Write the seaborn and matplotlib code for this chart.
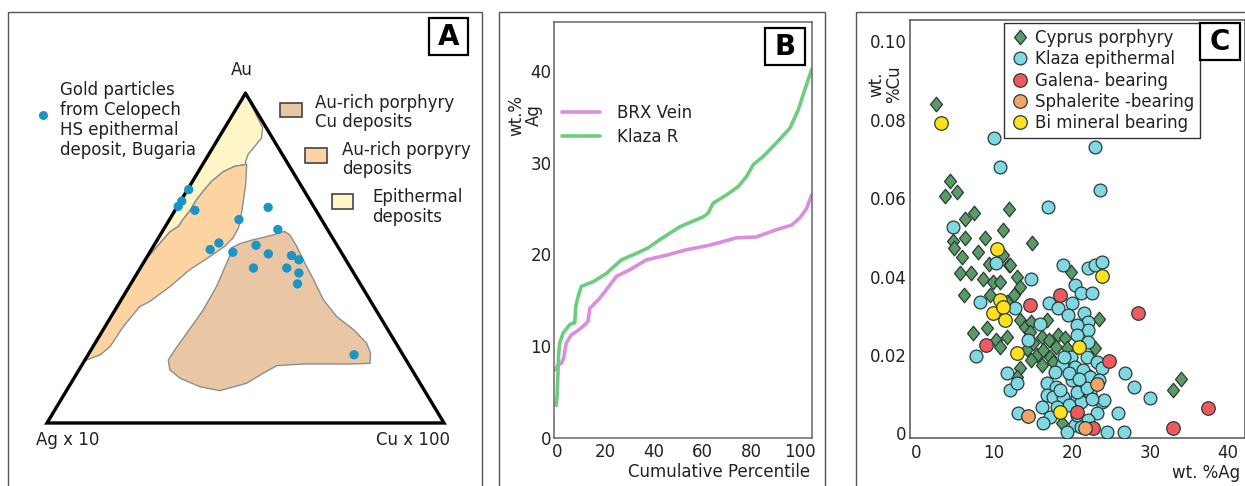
import numpy as np
import pandas as pd
import matplotlib
matplotlib.use("Agg")
import matplotlib.pyplot as plt
import seaborn as sns
from matplotlib.patches import Rectangle, Polygon
from matplotlib.lines import Line2D
from matplotlib.path import Path

# ---------------- DATA ----------------
# Panel A: gold particles (Au %, Cu %) in the Au - Ag*10 - Cu*100 ternary
gold_au = [70.8, 67.3, 65.7, 64.5, 65.4, 61.7, 58.7, 54.6, 52.6, 51.8,
           53.9, 51.3, 50.8, 49.5, 47.0, 47.0, 45.5, 42.2, 20.7]
gold_cu = [0.3, 0.3, 0.2, 5.0, 23.0, 17.5, 28.8, 16.0, 14.8, 20.9,
           25.7, 30.1, 36.2, 38.7, 28.5, 36.9, 40.7, 42.0, 67.0]

# fields: (Au %, Cu %) boundary vertices
epi_au = [100.0, 89.6, 86.5, 84.0, 81.5, 78.9, 78.4, 77.9, 76.2, 73.3, 70.3, 67.5,
          64.4, 61.7, 59.7, 58.0, 55.1, 51.6, 49.8]
epi_cu = [0.0, 9.5, 10.8, 10.4, 9.9, 10.5, 11.1, 8.4, 6.3, 4.8, 4.2, 3.8,
          3.8, 3.4, 3.3, 2.0, 1.3, 0.6, 0.0]

por_au = [78.4, 72.3, 67.3, 62.2, 59.3, 56.2, 53.6, 50.5, 46.5, 41.4, 36.9, 35.3,
          29.3, 23.2, 20.7, 19.1, 18.8, 49.8, 51.6, 55.1, 58.0, 59.7, 61.7, 64.4,
          67.5, 70.3, 73.3, 76.2, 77.9]
por_cu = [11.1, 13.9, 15.8, 17.7, 18.6, 18.8, 18.0, 15.8, 12.7, 10.3, 7.5, 5.7,
          4.6, 4.3, 3.1, 0.4, 0.0, 0.0, 0.6, 1.3, 2.0, 3.3, 3.4, 3.8,
          3.8, 4.2, 4.8, 6.3, 8.4]

cu_au = [53.1, 54.4, 55.6, 56.8, 58.1, 57.1, 53.6, 48.5, 43.5, 37.4, 32.3, 28.3,
         24.2, 21.2, 18.1, 17.9, 17.9, 17.4, 15.1, 12.1, 9.8, 11.0, 13.6, 16.1,
         19.1, 22.2, 27.3, 34.3, 41.4, 48.5, 52.1]
cu_cu = [19.9, 21.4, 24.2, 27.8, 30.8, 32.6, 36.1, 40.7, 45.4, 50.9, 56.8, 63.1,
         68.4, 70.9, 72.3, 67.3, 55.6, 49.2, 46.9, 44.3, 38.7, 33.0, 26.7, 22.9,
         21.0, 21.1, 21.6, 22.2, 22.0, 21.0, 20.5]

# Panel B: cumulative percentile curves of Ag wt.%
klaza_pct = [-0.3, 0.1, 0.7, 1.1, 2.5, 5.2, 6.6, 7.3, 7.7, 8.7, 10.0, 14.8, 20.3,
             26.5, 32.7, 37.5, 42.3, 50.5, 60.2, 62.2, 64.3, 69.8, 74.6, 78.0,
             80.8, 84.9, 90.4, 95.9, 99.3, 102.0, 104.8]
klaza_ag = [3.5, 4.8, 9.2, 10.3, 11.4, 12.3, 12.5, 12.5, 14.3, 15.4, 16.5, 17.0, 17.9,
            19.4, 20.1, 20.7, 21.6, 23.0, 24.1, 24.5, 25.6, 26.5, 27.4, 28.5,
            29.8, 30.7, 32.2, 33.8, 35.8, 38.0, 40.2]
brx_pct = [-0.7, 0.4, 1.8, 2.7, 3.8, 5.9, 8.7, 11.4, 12.8, 13.5, 16.9, 19.6, 24.5,
           29.9, 36.8, 45.0, 53.3, 62.9, 73.9, 82.1, 90.4, 96.6, 100.0, 102.7, 104.8]
brx_ag = [7.4, 7.9, 8.1, 8.6, 10.3, 11.2, 11.7, 12.3, 12.7, 14.1, 15.0, 15.9, 17.6,
          18.3, 19.4, 19.9, 20.5, 21.0, 21.8, 21.9, 22.7, 23.2, 24.0, 25.0, 26.5]

# Panel C: wt.% Ag vs wt.% Cu
cyp_ag = [2.5, 4.3, 3.7, 5.2, 6.3, 7.4, 11.9, 4.7, 4.9, 6.3, 8.9, 11.2, 14.9,
          5.9, 8.0, 9.3, 11.2, 11.9, 5.6, 7.1, 8.6, 9.9, 10.8, 12.1, 12.9, 13.3,
          12.5, 6.1, 9.5, 11.6, 19.8, 7.3, 9.1, 10.3, 11.6, 10.8, 13.3, 14.0, 14.8,
          14.6, 16.8, 16.1, 17.0, 18.2, 19.1, 18.0, 19.3, 15.5, 16.3, 17.2, 14.8,
          16.1, 17.6, 13.3, 12.9, 14.2, 15.0, 23.0, 23.4, 21.2, 18.7, 33.0, 33.9]
cyp_cu = [0.0840, 0.0644, 0.0605, 0.0616, 0.0548, 0.0561, 0.0571, 0.0491, 0.0474,
          0.0499, 0.0499, 0.0518, 0.0486, 0.0450, 0.0463, 0.0433, 0.0454, 0.0429,
          0.0408, 0.0410, 0.0395, 0.0387, 0.0387, 0.0429, 0.0400, 0.0374, 0.0353,
          0.0353, 0.0353, 0.0335, 0.0412, 0.0255, 0.0268, 0.0238, 0.0247, 0.0220,
          0.0289, 0.0272, 0.0285, 0.0259, 0.0289, 0.0247, 0.0238, 0.0251, 0.0243,
          0.0221, 0.0217, 0.0200, 0.0213, 0.0196, 0.0187, 0.0175, 0.0183, 0.0166,
          0.0145, 0.0215, 0.0230, 0.0217, 0.0293, 0.0111, 0.0026, 0.0110, 0.0140]

kla_ag = [10.0, 10.8, 23.0, 23.6, 16.9, 4.7, 10.3, 14.8, 18.9, 22.1, 22.9, 23.8,
          20.4, 21.2, 22.5, 8.2, 12.7, 17.0, 18.2, 20.0, 19.5, 21.5, 22.1, 22.1,
          20.6, 20.6, 22.1, 15.9, 14.4, 7.7, 11.6, 12.1, 12.9, 13.1, 18.7, 19.8,
          21.9, 23.2, 23.8, 20.4, 21.9, 20.0, 22.3, 20.6, 21.2, 23.8, 23.2, 25.9,
          24.5, 26.6, 26.8, 27.9, 30.0, 20.4, 16.8, 18.0, 16.8, 17.6, 18.9, 16.1,
          17.2, 16.3, 19.3, 19.6, 18.5, 21.4, 22.3, 20.6, 21.9, 19.6, 18.1, 20.6,
          22.0, 21.1, 24.1, 23.4, 20.9, 17.8, 22.6, 19.0]
kla_cu = [0.0752, 0.0679, 0.0729, 0.0620, 0.0577, 0.0527, 0.0435, 0.0395, 0.0429,
          0.0421, 0.0429, 0.0438, 0.0378, 0.0357, 0.0357, 0.0334, 0.0319, 0.0332,
          0.0319, 0.0332, 0.0302, 0.0306, 0.0285, 0.0264, 0.0276, 0.0251, 0.0233,
          0.0278, 0.0238, 0.0197, 0.0153, 0.0111, 0.0128, 0.0051, 0.0175, 0.0195,
          0.0196, 0.0183, 0.0166, 0.0170, 0.0149, 0.0136, 0.0102, 0.0094, 0.0081,
          0.0081, 0.0051, 0.0051, 0.0005, 0.0005, 0.0153, 0.0118, 0.0090, 0.0022,
          0.0128, 0.0119, 0.0098, 0.0094, 0.0094, 0.0068, 0.0043, 0.0026, 0.0005,
          0.0153, 0.0110, 0.0161, 0.0144, 0.0106, 0.0115, 0.0072, 0.0068, 0.0047,
          0.0034, 0.0017, 0.0085, 0.0136, 0.0140, 0.0158, 0.0089, 0.0195]

gal_ag = [14.6, 18.5, 28.4, 9.0, 24.7, 20.6, 22.7, 32.9, 37.4]
gal_cu = [0.0327, 0.0352, 0.0306, 0.0225, 0.0185, 0.0054, 0.0013, 0.0014, 0.0064]

sph_ag = [14.4, 23.2, 21.7]
sph_cu = [0.0044, 0.0127, 0.0015]

bi_ag = [3.2, 10.4, 10.8, 9.9, 11.2, 11.4, 13.0, 20.9, 23.8, 18.5]
bi_cu = [0.0792, 0.0469, 0.0340, 0.0306, 0.0323, 0.0289, 0.0206, 0.0221, 0.0401, 0.0055]

b_xticks = [0, 20, 40, 60, 80, 100]
b_yticks = [0, 10, 20, 30, 40]
c_xticks = [0, 10, 20, 30, 40]
c_yticks = [0, 0.02, 0.04, 0.06, 0.08, 0.10]
c_yticklabels = ["0", "0.02", "0.04", "0.06", "0.08", "0.10"]

# ---------------- STYLE ----------------
W, H = 1245, 486
sns.set_style("white")
plt.rcParams['font.family'] = ['DejaVu Sans']
TXT = '#222222'

fig = plt.figure(figsize=(W / 100, H / 100), dpi=100)


def fx(x):
    return x / W


def fy(y):
    return 1 - y / H


def axrect(l, t, r, b):
    return [fx(l), fy(b), (r - l) / W, (b - t) / H]


def ftext(x, y, s, **kw):
    kw.setdefault('fontsize', 12)
    kw.setdefault('color', TXT)
    fig.text(fx(x), fy(y), s, **kw)


def fbox(l, t, r, b, **kw):
    fig.add_artist(Rectangle((fx(l), fy(b)), (r - l) / W, (b - t) / H,
                             transform=fig.transFigure, fill=kw.pop('fill', False), **kw))


# outer panel frames
for (l, r) in [(8, 482), (499.3, 825), (856, 1260)]:
    fbox(l, 11.7, r, 495, ec='#555555', lw=1.0)

# ---------------- PANEL A ----------------
axA = fig.add_axes(axrect(8, 11.7, 482, 486))
axA.set_xlim(-0.0982, 1.0957)
axA.set_ylim(-0.1911, 1.2475)
axA.axis('off')


def tern(au, cu):
    au = np.asarray(au, float) / 100.0
    cu = np.asarray(cu, float) / 100.0
    return cu + au / 2.0, au


fields = [(epi_au, epi_cu, '#fff5c6'), (por_au, por_cu, '#fdd3a2'), (cu_au, cu_cu, '#eac6a5')]
for au, cu, col in fields:
    X, Y = tern(au, cu)
    axA.add_patch(Polygon(np.column_stack([X, Y]), closed=True, fc=col, ec='#8d8d8d', lw=1.0, zorder=1))

tx, ty = tern([100, 0, 0, 100], [0, 0, 100, 0])
axA.plot(tx, ty, color='black', lw=2.4, solid_joinstyle='miter', zorder=3)

gx, gy = tern(gold_au, gold_cu)
sns.scatterplot(x=gx, y=gy, ax=axA, color='#1b95c4', s=45, edgecolor='none', legend=False, zorder=5)

ftext(242, 75, 'Au', ha='center', va='baseline')
ftext(68, 445, 'Ag x 10', ha='center', va='baseline')
ftext(413, 445, 'Cu x 100', ha='center', va='baseline')
for i, line in enumerate(['Gold particles', 'from Celopech', 'HS epithermal', 'deposit, Bugaria']):
    ftext(60, 95 + 20 * i, line, ha='left', va='baseline')
fig.add_artist(Line2D([fx(42.7)], [fy(115)], marker='o', ms=6.5, color='#1b95c4', mec='none',
                      transform=fig.transFigure))

legA = [((280, 103, 302, 117), '#eac6a5', 315, ['Au-rich porphyry', 'Cu deposits'], 107.5),
        ((305, 148, 327, 163), '#fdd3a2', 342, ['Au-rich porpyry', 'deposits'], 154.5),
        ((332, 194, 353, 209), '#fff5c6', 372, ['Epithermal', 'deposits'], 202)]
for (l, t, r, b), col, tx0, lines, base in legA:
    fbox(l, t, r, b, fill=True, fc=col, ec='#444444', lw=1.2)
    for j, s in enumerate(lines):
        ftext(tx0, base + 19.5 * j, s, ha='left', va='baseline')

# letter boxes
for (l, t, r, b), letter in [((429, 18, 468, 55), 'A'), ((765, 28, 805, 65), 'B'), ((1200, 23, 1240, 60), 'C')]:
    fbox(l, t, r, b, fill=True, fc='white', ec='black', lw=1.6, zorder=10)
    fig.text(fx((l + r) / 2), fy((t + b) / 2 + 0.5), letter, ha='center', va='center',
             fontsize=20, fontweight='bold', color='black', zorder=11)

# ---------------- PANEL B ----------------
axB = fig.add_axes(axrect(554.3, 21.7, 811.7, 437.5))
dfB = pd.concat([
    pd.DataFrame({'pct': brx_pct, 'ag': brx_ag, 'series': 'BRX Vein'}),
    pd.DataFrame({'pct': klaza_pct, 'ag': klaza_ag, 'series': 'Klaza R'}),
])
palB = {'BRX Vein': '#d98ede', 'Klaza R': '#6dcd7e'}
sns.lineplot(data=dfB, x='pct', y='ag', hue='series', palette=palB, estimator=None,
             sort=False, lw=2.6, ax=axB, legend=False)
axB.set_xlim(-1.1, 104.8)
axB.set_ylim(0, 45.4)
axB.set_xticks(b_xticks)
axB.set_yticks(b_yticks)
axB.tick_params(axis='both', length=0, labelsize=12, labelcolor=TXT)
axB.tick_params(axis='y', pad=1.9)
axB.tick_params(axis='x', pad=4)
axB.set_xlabel('')
axB.set_ylabel('')
for sp in axB.spines.values():
    sp.set_color('#666666')
    sp.set_linewidth(1.1)
hB = [Line2D([], [], color=palB[k], lw=2.6) for k in ['BRX Vein', 'Klaza R']]
axB.legend(hB, ['BRX Vein', 'Klaza R'], loc='center left', bbox_to_anchor=(0.030, 0.752),
           frameon=False, fontsize=12, handlelength=2.3, handletextpad=1.0,
           borderpad=0, borderaxespad=0, labelspacing=0.35, labelcolor=TXT)
ftext(810, 477, 'Cumulative Percentile', ha='right', va='baseline')
ftext(525, 115, 'wt.%\nAg', ha='center', va='center', rotation=90, linespacing=1.0,
      multialignment='center')

# ---------------- PANEL C ----------------
axC = fig.add_axes(axrect(910, 20, 1244.5, 438))
diamond = Path([(0, 1), (0.82, 0), (0, -1), (-0.82, 0), (0, 1)],
               [Path.MOVETO, Path.LINETO, Path.LINETO, Path.LINETO, Path.CLOSEPOLY])
groups = [
    ('Cyprus porphyry', cyp_ag, cyp_cu, '#5a9a66', diamond, 110),
    ('Klaza epithermal', kla_ag, kla_cu, '#7fd8e2', 'o', 85),
    ('Galena- bearing', gal_ag, gal_cu, '#ee5a60', 'o', 95),
    ('Sphalerite -bearing', sph_ag, sph_cu, '#f3a465', 'o', 95),
    ('Bi mineral bearing', bi_ag, bi_cu, '#ffe01c', 'o', 95),
]
handlesC = []
for z, (name, xs, ys, col, mk, s) in enumerate(groups):
    sns.scatterplot(x=xs, y=ys, ax=axC, color=col, marker=mk, s=s, edgecolor='#2b3b38',
                    linewidth=0.9, legend=False, zorder=3 + z)
    handlesC.append(Line2D([], [], ls='none', marker=mk, ms=np.sqrt(s), mfc=col,
                           mec='#2b3b38', mew=0.9))
axC.set_xlim(-0.77, 42.1)
axC.set_ylim(-0.00115, 0.1054)
axC.set_xticks(c_xticks)
axC.set_yticks(c_yticks)
axC.set_yticklabels(c_yticklabels)
axC.tick_params(axis='both', length=0, labelsize=12, labelcolor=TXT)
axC.tick_params(axis='y', pad=2.4)
axC.tick_params(axis='x', pad=4)
axC.set_xlabel('')
axC.set_ylabel('')
for sp in axC.spines.values():
    sp.set_color('#555555')
    sp.set_linewidth(1.1)
legC = axC.legend(handlesC, [g[0] for g in groups], loc='upper left',
                  bbox_to_anchor=((1004 - 910) / 334.5, (438 - 23) / 418), borderaxespad=0,
                  frameon=True, fancybox=False, edgecolor='#333333', framealpha=1,
                  fontsize=12, handlelength=1.2, handletextpad=0.3, labelspacing=0.2,
                  borderpad=0.35, labelcolor=TXT)
legC.get_frame().set_linewidth(1.0)
legC.set_zorder(20)
ftext(1240, 478, 'wt. %Ag', ha='right', va='baseline')
ftext(885, 84, 'wt.\n%Cu', ha='center', va='center', rotation=90, linespacing=1.0,
      multialignment='center')

fig.savefig('out.png', dpi=100)
